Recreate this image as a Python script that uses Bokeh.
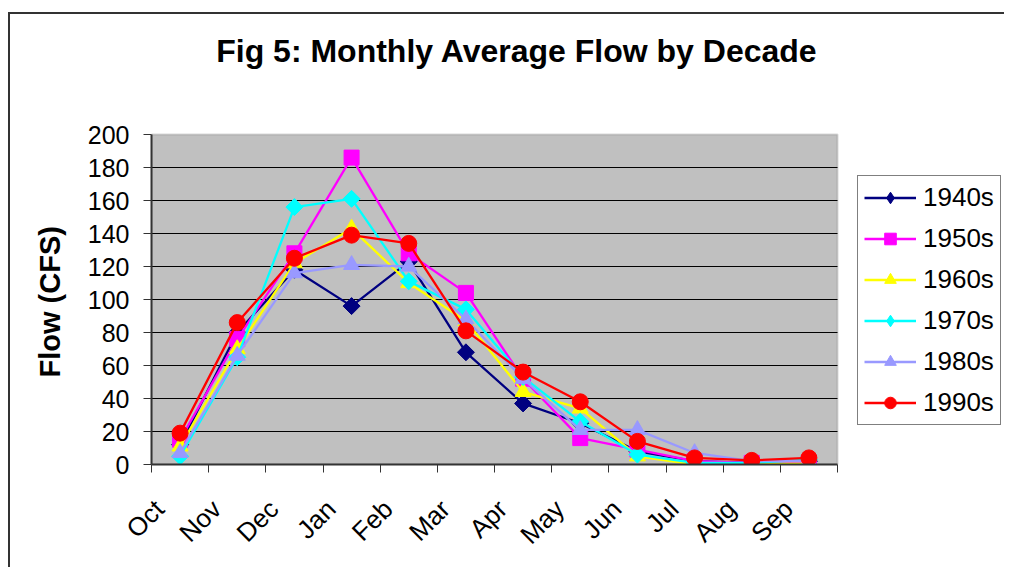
import math
from bokeh.plotting import figure
from bokeh.models import Legend, LegendItem, FixedTicker, Range1d, BoxAnnotation, Label, Title
from bokeh.embed import file_html
from bokeh.resources import INLINE

months = ["Oct", "Nov", "Dec", "Jan", "Feb", "Mar", "Apr", "May", "Jun", "Jul", "Aug", "Sep"]
flow_1940s = [12, 80, 118, 96, 123, 68, 37, 25, 8, 2, 1, 2]
flow_1950s = [15, 76, 128, 186, 128, 104, 52, 16, 9, 2, 1, 1]
flow_1960s = [11, 70, 122, 143, 110, 87, 44, 34, 5, 0, 0.5, 0.5]
flow_1970s = [5, 65, 156, 161, 111, 94, 53, 26, 6, 1, 1, 3]
flow_1980s = [7, 66, 116, 121, 120, 88, 52, 21, 21, 7, 2, 2]
flow_1990s = [19, 86, 125, 139, 134, 81, 56, 38, 14, 4, 2.5, 4]
y_ticks = [0, 20, 40, 60, 80, 100, 120, 140, 160, 180, 200]
title_text = "Fig 5: Monthly Average Flow by Decade"
y_label = "Flow (CFS)"

series = [
    ("1940s", flow_1940s, "#000080", "diamond"),
    ("1950s", flow_1950s, "#FF00FF", "square"),
    ("1960s", flow_1960s, "#FFFF00", "triangle"),
    ("1970s", flow_1970s, "#00FFFF", "diamond"),
    ("1980s", flow_1980s, "#9999FF", "triangle"),
    ("1990s", flow_1990s, "#FF0000", "circle"),
]

FONT = "Liberation Sans"
N = len(months)
Y_MAX = y_ticks[-1]
FIG_W, FIG_H = 996, 555
LEFT, BOTTOM = 141, 105
PLOT_W, PLOT_H = 686, 330          # pixel size of the grey plot area
PLOT_TOP = 120                     # grey area top, px below figure top
frame_w = FIG_W - LEFT
frame_h = FIG_H - BOTTOM
x_max = N * frame_w / PLOT_W
y_max = Y_MAX * frame_h / PLOT_H

p = figure(width=FIG_W, height=FIG_H, output_backend="svg", toolbar_location=None,
           x_range=Range1d(0, x_max), y_range=Range1d(0, y_max),
           min_border_left=LEFT, min_border_right=0, min_border_top=0, min_border_bottom=BOTTOM,
           margin=(12, 0, 0, 8))
p.styles = {"border-left": "2px solid #333333", "border-top": "2px solid #333333"}
p.background_fill_color = "white"
p.border_fill_color = "white"
p.outline_line_color = None

# grey plot area
area = BoxAnnotation(left=0, right=N, bottom=0, top=Y_MAX, fill_color="#C0C0C0", fill_alpha=1,
                     line_color="#808080", line_width=2, level="image")
p.add_layout(area)

# horizontal grid lines limited to the plot area
grid_y = y_ticks[1:-1]
p.segment(x0=[0] * len(grid_y), x1=[N] * len(grid_y), y0=grid_y, y1=grid_y,
          line_color="black", line_width=1, level="underlay")

# title
title_y = Y_MAX * (PLOT_H + PLOT_TOP - 36) / PLOT_H
p.add_layout(Label(x=N * 365.5 / PLOT_W, y=title_y, text=title_text,
                   text_font=FONT, text_font_size="32px", text_font_style="bold",
                   text_color="black", text_align="center", text_baseline="middle"))

xs = [i + 0.5 for i in range(N)]
items = []
for name, vals, color, marker in series:
    r_line = p.line(xs, vals, line_color=color, line_width=2.3)
    if marker == "diamond":
        p.scatter(xs, vals, marker="square", angle=math.pi / 4, size=12,
                  fill_color=color, line_color=color)
        r_leg = p.scatter([-50], [-50], marker="diamond", size=17, fill_color=color, line_color=color)
        items.append(LegendItem(label=name, renderers=[r_line, r_leg]))
        continue
    elif marker == "square":
        r_m = p.scatter(xs, vals, marker="square", size=15, fill_color=color, line_color=color)
    elif marker == "triangle":
        r_m = p.scatter(xs, vals, marker="triangle", size=16, fill_color=color, line_color=color)
    else:
        r_m = p.scatter(xs, vals, marker="circle", size=16, fill_color=color, line_color=color)
    items.append(LegendItem(label=name, renderers=[r_line, r_m]))

# x axis
label_pos = [i + 0.14 for i in range(N)]
p.xaxis.bounds = (0, N)
p.xaxis.ticker = FixedTicker(ticks=label_pos, minor_ticks=list(range(N + 1)))
p.xaxis.major_label_overrides = {lp: m for lp, m in zip(label_pos, months)}
p.xaxis.major_label_orientation = math.pi / 4
p.xaxis.major_tick_out = 0
p.xaxis.major_tick_in = 0
p.xaxis.minor_tick_out = 8
p.xaxis.minor_tick_in = 0
p.xaxis.minor_tick_line_color = "#333333"
p.xaxis.major_label_text_font = FONT
p.xaxis.major_label_text_font_size = "26px"
p.xaxis.major_label_text_color = "black"
p.xaxis.major_label_standoff = 32
p.xaxis.axis_line_color = "#333333"
p.xaxis.axis_line_width = 2

# y axis
p.yaxis.bounds = (0, Y_MAX)
p.yaxis.ticker = FixedTicker(ticks=y_ticks)
p.yaxis.major_tick_out = 8
p.yaxis.major_tick_in = 0
p.yaxis.minor_tick_line_color = None
p.yaxis.major_tick_line_color = "#333333"
p.yaxis.axis_line_color = "#333333"
p.yaxis.axis_line_width = 2
p.yaxis.major_label_text_font = FONT
p.yaxis.major_label_text_font_size = "25px"
p.yaxis.major_label_text_color = "black"
p.yaxis.major_label_standoff = 14

# y axis title, placed alongside the grey plot area
p.add_layout(Title(text=y_label, align="left", offset=87, standoff=38, vertical_align="bottom",
                   text_font=FONT, text_font_size="29px", text_font_style="bold",
                   text_color="black"), "left")

p.xgrid.visible = False
p.ygrid.visible = False

legend = Legend(items=items, location=(706, 39), orientation="vertical",
                label_text_font=FONT, label_text_font_size="26px", label_text_color="black",
                glyph_width=52, glyph_height=29, label_height=29, spacing=10,
                padding=6, label_standoff=7, border_line_color="black", border_line_width=1,
                background_fill_color="white", background_fill_alpha=1, margin=0)
p.add_layout(legend, "center")

open("out.html", "w").write(file_html(p, INLINE))
